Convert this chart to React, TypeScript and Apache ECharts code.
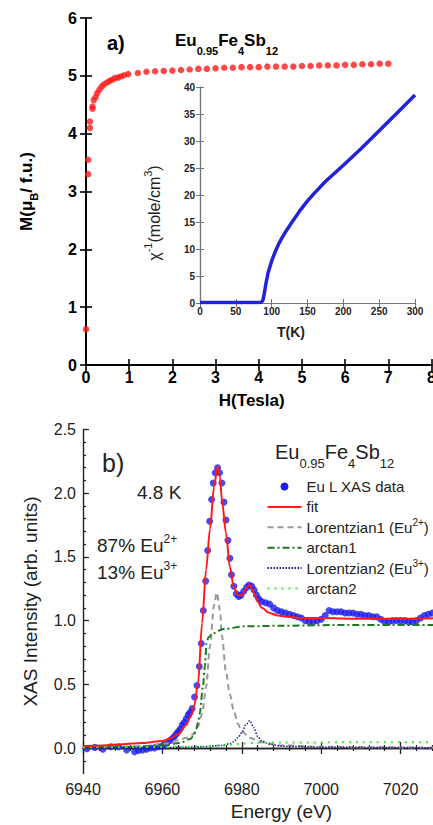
import React, { useEffect, useRef } from "react";
import * as echarts from "echarts";

const FONT = "'Liberation Sans', Arial, Helvetica, sans-serif";

// ---------- Panel a: M(H) ----------
const fieldH = [
  0, 0.05, 0.05, 0.09, 0.09, 0.15, 0.15, 0.18, 0.22, 0.26, 0.31, 0.36, 0.41, 0.48, 0.54, 0.6, 0.67, 0.74, 0.81, 0.88, 0.98,
  1.2, 1.4, 1.6, 1.8, 2.0, 2.2, 2.4, 2.6, 2.8, 3.0, 3.2, 3.4, 3.6, 3.8, 4.0, 4.2, 4.4, 4.6, 4.8, 5.0,
  5.2, 5.4, 5.6, 5.8, 6.0, 6.2, 6.4, 6.6, 6.8, 7.0,
];
const moment = [
  0.62, 3.3, 3.55, 4.1, 4.21, 4.43, 4.47, 4.58, 4.63, 4.7, 4.76, 4.81, 4.85, 4.88, 4.91, 4.93, 4.96, 4.97, 4.99, 5.01, 5.03,
  5.05, 5.07, 5.08, 5.085, 5.09, 5.1, 5.11, 5.12, 5.12, 5.13, 5.14, 5.14, 5.15, 5.15, 5.15, 5.16, 5.16, 5.16, 5.16, 5.17,
  5.17, 5.18, 5.18, 5.18, 5.19, 5.19, 5.2, 5.2, 5.21, 5.21,
];

// ---------- Inset: inverse susceptibility ----------
const tempK = [0, 20, 40, 60, 80, 86, 88, 90, 92, 95, 98, 100, 105, 110, 115, 120, 130, 140, 150, 160, 175, 200, 225, 250, 275, 300];
const invChi = [0.1, 0.1, 0.1, 0.1, 0.1, 0.15, 0.6, 2.0, 3.6, 5.6, 6.9, 7.8, 9.5, 11.0, 12.2, 13.3, 15.3, 17.2, 18.9, 20.4, 22.5, 25.5, 28.6, 31.9, 35.2, 38.5];

// ---------- Panel b: XAS ----------
const xasE = [
  6941, 6943, 6945, 6947, 6949, 6951, 6953, 6954, 6955, 6956,
  6957, 6958, 6959, 6960, 6961, 6962, 6962.5, 6963, 6963.5, 6964,
  6964.5, 6965, 6965.5, 6966, 6966.5, 6967, 6967.5, 6968.1, 6968.7, 6969.3,
  6969.8, 6970.3, 6970.9, 6971.4, 6971.9, 6972.4, 6972.8, 6973.3, 6973.9, 6974.4,
  6975, 6975.5, 6976, 6976.5, 6977, 6977.4, 6978, 6978.6, 6979.2, 6979.8,
  6980.5, 6981.2, 6981.8, 6982.5, 6983.1, 6983.7, 6984.3, 6985, 6986, 6987,
  6988, 6989, 6990, 6991, 6992, 6993, 6994, 6995, 6996, 6997,
  6998, 6999, 7000, 7001, 7002, 7003, 7004, 7005, 7006, 7007,
  7008, 7009, 7010, 7011, 7012, 7013, 7014, 7015, 7016, 7017,
  7018, 7019, 7020, 7021, 7022, 7023, 7024, 7025, 7026, 7027,
  7028, 7029, 7030,
];
const xasI = [
  -0.005, 0.005, -0.01, 0.01, 0.01, -0.015, -0.03, -0.02, -0.015, -0.01,
  0.0, 0.0, 0.01, 0.015, 0.035, 0.06, 0.075, 0.09, 0.11, 0.13,
  0.15, 0.18, 0.2, 0.23, 0.26, 0.28, 0.31, 0.4, 0.49, 0.64,
  0.82, 1.08, 1.31, 1.55, 1.78, 1.95, 2.08, 2.16, 2.2, 2.16,
  2.08, 1.93, 1.79, 1.63, 1.49, 1.36, 1.27, 1.21, 1.19, 1.2,
  1.23, 1.26, 1.28, 1.27, 1.24, 1.2, 1.17, 1.15, 1.14, 1.13,
  1.1, 1.08, 1.07, 1.06, 1.05, 1.04, 1.03, 1.02, 1.0, 0.99,
  0.99, 1.0, 1.01, 1.04, 1.08, 1.07, 1.07, 1.07, 1.06, 1.06,
  1.06, 1.05, 1.05, 1.04, 1.04, 1.03, 1.03, 1.01, 0.99, 0.99,
  1.0, 1.0, 1.0, 1.0, 0.99, 0.99, 1.0, 1.02, 1.04, 1.05,
  1.06, 1.06, 1.05,
];
const fitE = [6940, 6945, 6950, 6955, 6960, 6962, 6964, 6966, 6967, 6968, 6969, 6970, 6971, 6972, 6973, 6973.9, 6974.5, 6975, 6976, 6977, 6978, 6979, 6980, 6981, 6982, 6983, 6984, 6985, 6987, 6989, 6992, 6995, 7000, 7010, 7020, 7030];
const fitI = [0.015, 0.02, 0.03, 0.04, 0.055, 0.075, 0.11, 0.18, 0.24, 0.33, 0.51, 0.98, 1.4, 1.72, 2.05, 2.21, 2.13, 1.94, 1.69, 1.42, 1.26, 1.2, 1.2, 1.25, 1.28, 1.22, 1.15, 1.1, 1.06, 1.04, 1.03, 1.02, 1.02, 1.015, 1.015, 1.02];
const lor1E = [6940, 6950, 6955, 6960, 6964, 6966, 6968, 6969, 6970, 6971, 6972, 6973, 6973.7, 6974.5, 6975, 6976, 6977, 6978, 6979, 6980, 6982, 6985, 6990, 7000, 7010, 7030];
const lor1I = [0.005, 0.01, 0.015, 0.03, 0.06, 0.08, 0.11, 0.17, 0.27, 0.48, 0.8, 1.12, 1.22, 1.08, 0.88, 0.6, 0.42, 0.29, 0.19, 0.13, 0.08, 0.045, 0.02, 0.01, 0.006, 0.003];
const atan1E = [6940, 6950, 6955, 6960, 6964.4, 6967, 6967.7, 6968.5, 6969, 6969.4, 6970.2, 6970.7, 6971.1, 6971.6, 6972.7, 6975.3, 6981, 6990, 7003, 7030];
const atan1I = [0.004, 0.008, 0.012, 0.02, 0.04, 0.07, 0.09, 0.15, 0.2, 0.27, 0.48, 0.64, 0.82, 0.87, 0.9, 0.935, 0.955, 0.96, 0.965, 0.965];
const lor2E = [6940, 6960, 6970, 6975, 6977, 6978, 6979, 6980, 6981, 6982, 6983, 6984, 6985, 6987, 6990, 7000, 7030];
const lor2I = [0.002, 0.004, 0.01, 0.02, 0.035, 0.05, 0.08, 0.12, 0.18, 0.215, 0.16, 0.09, 0.055, 0.03, 0.015, 0.006, 0.002];
const atan2E = [6940, 6960, 6970, 6975, 6978, 6980, 6983, 6990, 7010, 7030];
const atan2I = [0.005, 0.008, 0.012, 0.02, 0.028, 0.035, 0.04, 0.043, 0.045, 0.046];

const yMajorB = [0, 0.5, 1, 1.5, 2, 2.5];
const yMinorB = [-0.1, 0.1, 0.2, 0.3, 0.4, 0.6, 0.7, 0.8, 0.9, 1.1, 1.2, 1.3, 1.4, 1.6, 1.7, 1.8, 1.9, 2.1, 2.2, 2.3, 2.4];
const yLabelsB = ["0.0", "0.5", "1.0", "1.5", "2.0", "2.5"];

const legendNames = ["Eu L XAS data", "fit", "Lorentzian1 (Eu2+)", "arctan1", "Lorentzian2 (Eu3+)", "arctan2"];

const zip = (a: number[], b: number[]) => a.map((v, i) => [v, b[i]]);

export default function App() {
  const ref = useRef<HTMLDivElement>(null);
  useEffect(() => {
    if (!ref.current) return;
    const chart = echarts.init(ref.current, null, { renderer: "svg" });
    const black = "#000";
    const dark = "#222";
    const tickA = { show: true, inside: true, length: 6, lineStyle: { color: black, width: 1.6 } };
    const lineA = { show: true, lineStyle: { color: black, width: 1.8 } };
    const insetGray = "#777";
    const tickI = { show: true, inside: true, length: 4, lineStyle: { color: insetGray, width: 1 } };
    const lineI = { show: true, lineStyle: { color: insetGray, width: 1.2 } };
    const lineB = { show: true, lineStyle: { color: dark, width: 1.4 } };
    const tickBMaj = { show: true, inside: true, length: 6, lineStyle: { color: dark, width: 1.3 } };
    const tickBMin = { show: true, inside: true, length: 3, lineStyle: { color: dark, width: 1.2 } };

    const supStyle = (size: number, lh: number, weight = "normal", color = dark, up = 10) => ({
      fontSize: size, fontFamily: FONT, fontWeight: weight, color, lineHeight: lh, padding: [0, 0, up, 0],
    });
    const subStyle = (size: number, lh: number, weight = "normal", color = dark, down = 20) => ({
      fontSize: size, fontFamily: FONT, fontWeight: weight, color, lineHeight: lh, padding: [down, 0, 0, 0],
    });

    const option: any = {
      animation: false,
      backgroundColor: "#fff",
      grid: [
        { left: 86, top: 18, width: 345.5, height: 347, outerBoundsMode: "none", containLabel: false },
        { left: 200, top: 87, width: 215, height: 216, outerBoundsMode: "none", containLabel: false },
        { left: 83, top: 429.5, width: 397, height: 344, outerBoundsMode: "none", containLabel: false },
      ],
      xAxis: [
        {
          gridIndex: 0, type: "value", min: 0, max: 8, interval: 1, position: "bottom",
          axisLine: lineA, axisTick: tickA, splitLine: { show: false },
          axisLabel: { fontSize: 16, fontWeight: "bold", fontFamily: FONT, color: black, margin: 4 },
          name: "H(Tesla)", nameLocation: "middle", nameGap: 27,
          nameTextStyle: { fontSize: 17, fontWeight: "bold", fontFamily: FONT, color: black, padding: [0, 14, 0, 0] },
        },
        {
          gridIndex: 0, type: "value", min: 0, max: 8, interval: 1, position: "top",
          axisLine: lineA, axisTick: tickA, axisLabel: { show: false }, splitLine: { show: false },
        },
        {
          gridIndex: 1, type: "value", min: 0, max: 300, interval: 50, position: "bottom",
          axisLine: lineI, axisTick: tickI, splitLine: { show: false },
          axisLabel: { fontSize: 10, fontWeight: "bold", fontFamily: FONT, color: dark, margin: 3 },
          name: "T(K)", nameLocation: "middle", nameGap: 22,
          nameTextStyle: { fontSize: 14, fontWeight: "bold", fontFamily: FONT, color: dark, padding: [0, 33, 0, 0] },
        },
        {
          gridIndex: 1, type: "value", min: 0, max: 300, interval: 50, position: "top",
          axisLine: lineI, axisTick: tickI, axisLabel: { show: false }, splitLine: { show: false },
        },
        {
          gridIndex: 2, type: "value", min: 6940, max: 7040, interval: 20, position: "bottom",
          axisLine: lineB, axisTick: tickBMaj, splitLine: { show: false },
          minorTick: { show: true, splitNumber: 5, length: 3, lineStyle: { color: dark, width: 1.2 } },
          axisLabel: { fontSize: 16, fontFamily: FONT, color: dark, margin: 8, showMaxLabel: false, formatter: (v: number) => String(v) },
          name: "Energy (eV)", nameLocation: "middle", nameGap: 28,
          nameTextStyle: { fontSize: 19, fontFamily: FONT, color: dark },
        },
        {
          gridIndex: 2, type: "value", min: 6940, max: 7040, interval: 20, position: "top",
          axisLine: lineB, axisTick: tickBMaj, axisLabel: { show: false }, splitLine: { show: false },
          minorTick: { show: true, splitNumber: 5, length: 3, lineStyle: { color: dark, width: 1.2 } },
        },
      ],
      yAxis: [
        {
          gridIndex: 0, type: "value", min: 0, max: 6, interval: 1, position: "left",
          axisLine: lineA, axisTick: tickA, splitLine: { show: false },
          axisLabel: { fontSize: 16, fontWeight: "bold", fontFamily: FONT, color: black, margin: 9 },
          name: "M(μ{s|B}/ f.u.)", nameLocation: "middle", nameGap: 50,
          nameTextStyle: {
            fontSize: 17, fontWeight: "bold", fontFamily: FONT, color: black, lineHeight: 20,
            rich: { s: subStyle(11, 20, "bold", black, 16) },
          },
        },
        {
          gridIndex: 0, type: "value", min: 0, max: 6, interval: 1, position: "right",
          axisLine: lineA, axisTick: tickA, axisLabel: { show: false }, splitLine: { show: false },
        },
        {
          gridIndex: 1, type: "value", min: 0, max: 40, interval: 5, position: "left",
          axisLine: lineI, axisTick: tickI, splitLine: { show: false },
          axisLabel: { fontSize: 10, fontWeight: "bold", fontFamily: FONT, color: dark, margin: 5 },
          name: "χ{p|-1}(mole/cm{p|3})", nameLocation: "middle", nameGap: 37,
          nameTextStyle: {
            fontSize: 16, fontFamily: FONT, color: dark, lineHeight: 18, padding: [0, 36, 0, 0],
            rich: { p: supStyle(11, 18, "normal", dark, 12) },
          },
        },
        {
          gridIndex: 1, type: "value", min: 0, max: 40, interval: 5, position: "right",
          axisLine: lineI, axisTick: tickI, axisLabel: { show: false }, splitLine: { show: false },
        },
        {
          gridIndex: 2, type: "value", min: -0.2, max: 2.5, position: "left",
          axisLine: lineB, splitLine: { show: false },
          axisTick: { ...tickBMaj, customValues: yMajorB },
          axisLabel: {
            fontSize: 16, fontFamily: FONT, color: dark, margin: 7, customValues: yMajorB,
            formatter: (v: number) => yLabelsB[yMajorB.findIndex((m) => Math.abs(m - v) < 1e-6)] ?? "",
          },
          name: "XAS Intensity (arb. units)", nameLocation: "middle", nameGap: 42,
          nameTextStyle: { fontSize: 19, fontFamily: FONT, color: dark, lineHeight: 22 },
        },
        {
          gridIndex: 2, type: "value", min: -0.2, max: 2.5, position: "left",
          axisLine: { show: false }, splitLine: { show: false }, axisLabel: { show: false },
          axisTick: { ...tickBMin, customValues: yMinorB },
        },
      ],
      legend: {
        data: [
          { name: legendNames[0], icon: "circle", itemStyle: { opacity: 1 } },
          legendNames[1], legendNames[2], legendNames[3], legendNames[4], legendNames[5],
        ],
        orient: "vertical", left: 266.5, top: 476.5, padding: 0, itemWidth: 34, itemHeight: 8, itemGap: 0.4,
        itemStyle: { opacity: 0 },
        textStyle: {
          fontSize: 15, fontFamily: FONT, color: dark, lineHeight: 20,
          rich: { sup: supStyle(10, 20, "normal", dark, 10) },
        },
        formatter: (n: string) => n.replace("Eu2+", "Eu{sup|2+}").replace("Eu3+", "Eu{sup|3+}"),
      },
      graphic: [
        {
          type: "text", x: 107, y: 43,
          style: { text: "a)", fontSize: 20, fontWeight: "bold", fontFamily: FONT, fill: black, verticalAlign: "middle" },
        },
        {
          type: "text", x: 175, y: 40,
          style: {
            text: "{m|Eu}{s|0.95}{m|Fe}{s|4}{m|Sb}{s|12}", verticalAlign: "middle",
            rich: {
              m: { fontSize: 17, fontWeight: "bold", fontFamily: FONT, fill: black, lineHeight: 22 },
              s: { fontSize: 11, fontWeight: "bold", fontFamily: FONT, fill: black, lineHeight: 22, padding: [22, 0, 0, 0] },
            },
          },
        },
        {
          type: "text", x: 102, y: 463,
          style: { text: "b)", fontSize: 25, fontFamily: FONT, fill: dark, verticalAlign: "middle" },
        },
        {
          type: "text", x: 275, y: 452,
          style: {
            text: "{m|Eu}{s|0.95}{m|Fe}{s|4}{m|Sb}{s|12}", verticalAlign: "middle",
            rich: {
              m: { fontSize: 20, fontFamily: FONT, fill: dark, lineHeight: 24 },
              s: { fontSize: 13, fontFamily: FONT, fill: dark, lineHeight: 24, padding: [22, 0, 0, 0] },
            },
          },
        },
        {
          type: "text", x: 137, y: 492,
          style: { text: "4.8 K", fontSize: 19, fontFamily: FONT, fill: dark, verticalAlign: "middle" },
        },
        {
          type: "text", x: 97, y: 545,
          style: {
            text: "{m|87% Eu}{p|2+}", verticalAlign: "middle",
            rich: {
              m: { fontSize: 19, fontFamily: FONT, fill: dark, lineHeight: 24 },
              p: { fontSize: 12, fontFamily: FONT, fill: dark, lineHeight: 24, padding: [0, 0, 12, 0] },
            },
          },
        },
        {
          type: "text", x: 97, y: 572,
          style: {
            text: "{m|13% Eu}{p|3+}", verticalAlign: "middle",
            rich: {
              m: { fontSize: 19, fontFamily: FONT, fill: dark, lineHeight: 24 },
              p: { fontSize: 12, fontFamily: FONT, fill: dark, lineHeight: 24, padding: [0, 0, 12, 0] },
            },
          },
        },
      ],
      series: [
        {
          name: "M(H)", type: "scatter", xAxisIndex: 0, yAxisIndex: 0,
          data: zip(fieldH, moment), symbol: "circle", symbolSize: 6.5,
          itemStyle: { color: "#ff1a1a" }, z: 3,
        },
        {
          name: "inverse susceptibility", type: "line", xAxisIndex: 2, yAxisIndex: 2,
          data: zip(tempK, invChi), showSymbol: false, symbol: "none", smooth: false,
          lineStyle: { color: "#2222d8", width: 3.5, join: "round" }, z: 3,
        },
        {
          name: legendNames[0], type: "scatter", xAxisIndex: 4, yAxisIndex: 4,
          data: zip(xasE, xasI), symbol: "circle", symbolSize: 7,
          itemStyle: { color: "#1c1cf0" }, z: 2,
        },
        {
          name: legendNames[2], type: "line", xAxisIndex: 4, yAxisIndex: 4,
          data: zip(lor1E, lor1I), showSymbol: false, symbol: "none", smooth: 0.3, smoothMonotone: "x",
          lineStyle: { color: "#999999", width: 2, type: [6, 4] }, itemStyle: { color: "#999999" }, z: 3,
        },
        {
          name: legendNames[3], type: "line", xAxisIndex: 4, yAxisIndex: 4,
          data: zip(atan1E, atan1I), showSymbol: false, symbol: "none", smooth: 0.3, smoothMonotone: "x",
          lineStyle: { color: "#1f7a1f", width: 2, type: [7, 3, 2, 3] }, itemStyle: { color: "#1f7a1f" }, z: 3,
        },
        {
          name: legendNames[4], type: "line", xAxisIndex: 4, yAxisIndex: 4,
          data: zip(lor2E, lor2I), showSymbol: false, symbol: "none", smooth: 0.3, smoothMonotone: "x",
          lineStyle: { color: "#1a1a8c", width: 1.5, type: [1.5, 1.5] }, itemStyle: { color: "#1a1a8c" }, z: 3,
        },
        {
          name: legendNames[5], type: "line", xAxisIndex: 4, yAxisIndex: 4,
          data: zip(atan2E, atan2I), showSymbol: false, symbol: "none", smooth: 0.3, smoothMonotone: "x",
          lineStyle: { color: "#33ee33", width: 2, type: [2, 5] }, itemStyle: { color: "#33ee33" }, z: 3,
        },
        {
          name: legendNames[1], type: "line", xAxisIndex: 4, yAxisIndex: 4,
          data: zip(fitE, fitI), showSymbol: false, symbol: "none", smooth: 0.3, smoothMonotone: "x",
          lineStyle: { color: "#ff1a1a", width: 2 }, itemStyle: { color: "#ff1a1a" }, z: 4,
        },
      ],
    };
    chart.setOption(option);
    return () => chart.dispose();
  }, []);

  return (
    <div style={{ position: "absolute", left: 0, top: 0, width: 433, height: 825, overflow: "hidden", background: "#fff" }}>
      <div ref={ref} style={{ width: 433, height: 825 }} />
    </div>
  );
}
